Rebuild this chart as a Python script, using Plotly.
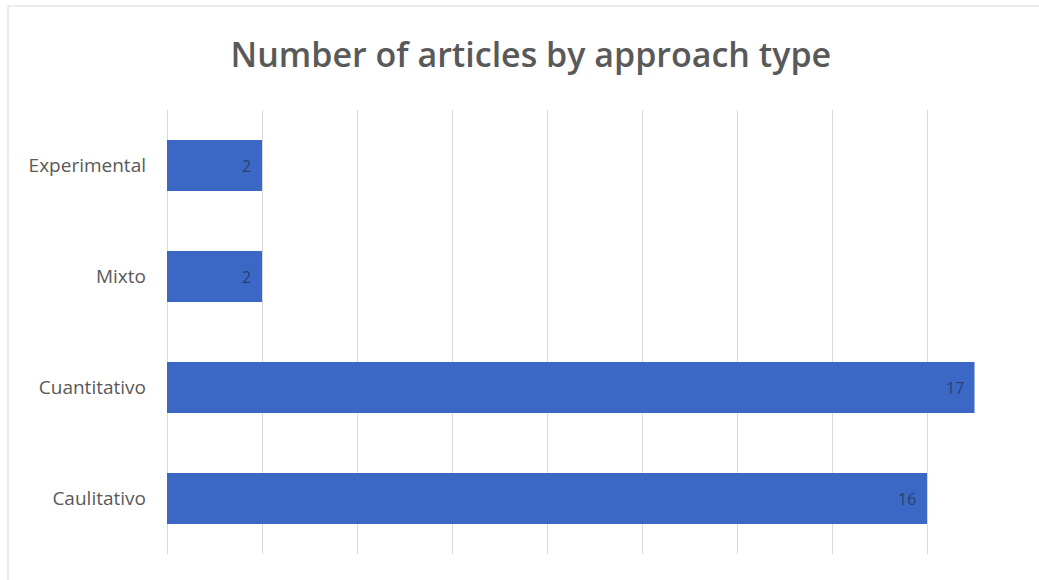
import plotly.graph_objects as go

categories = ["Caulitativo", "Cuantitativo", "Mixto", "Experimental"]
values = [16, 17, 2, 2]
title_text = "Number of articles by approach type"

W, H = 1039, 580
ml, mr, mt, mb = 167, 17, 110, 26
pw, ph = W - ml - mr, H - mt - mb

fig = go.Figure()
fig.add_trace(go.Bar(
    y=categories, x=values, orientation="h",
    marker=dict(color="#3A68C4", line=dict(width=0)),
    width=0.46,
    hoverinfo="skip",
))

for c, v in zip(categories, values):
    fig.add_annotation(x=v, y=c, text=str(v), showarrow=False, xanchor="right",
                       xshift=-9, font=dict(family="Open Sans", size=16, color="#2B3F70"))

fig.update_layout(
    width=W, height=H,
    margin=dict(l=ml, r=mr, t=mt, b=mb),
    paper_bgcolor="white", plot_bgcolor="white",
    showlegend=False,
    title=dict(text=title_text, x=0.511, xanchor="center", y=0.905, yanchor="middle",
               font=dict(family="Open Sans", size=34, color="#595959", weight=600)),
    xaxis=dict(range=[0, 18], dtick=2, showgrid=True, gridcolor="#D9D9D9", gridwidth=1,
               showticklabels=False, zeroline=True, zerolinecolor="#D9D9D9", zerolinewidth=1,
               showline=False, fixedrange=True),
    yaxis=dict(showgrid=False, ticks="", ticklabelstandoff=20,
               tickfont=dict(family="Open Sans", size=19, color="#595959"),
               showline=False, fixedrange=True),
    shapes=[dict(type="rect", xref="paper", yref="paper",
                 x0=(8 - ml) / pw, x1=(1045 - ml) / pw,
                 y0=(ph - (590 - mt)) / ph, y1=(ph - (6 - mt)) / ph,
                 line=dict(color="#D9D9D9", width=1), fillcolor="rgba(0,0,0,0)", layer="below")],
)

fig.write_html("out.html")
